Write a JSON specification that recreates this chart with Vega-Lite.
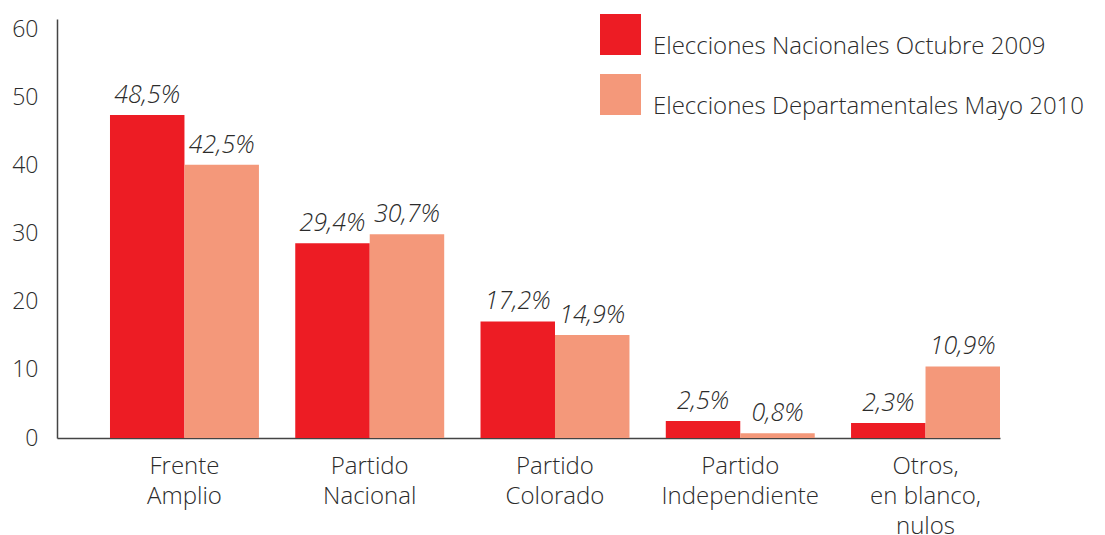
{
  "$schema": "https://vega.github.io/schema/vega-lite/v6.json",
  "width": 943,
  "height": 419,
  "autosize": "none",
  "padding": {"left": 57, "top": 19, "right": 105, "bottom": 97},
  "config": {"view": {"stroke": null}, "font": "Open Sans"},
  "data": {
    "values": [
      {"partido": "Frente\nAmplio", "eleccion": "Elecciones Nacionales Octubre 2009", "valor": 47.4, "etiqueta": "48,5%"},
      {"partido": "Frente\nAmplio", "eleccion": "Elecciones Departamentales Mayo 2010", "valor": 40.1, "etiqueta": "42,5%"},
      {"partido": "Partido\nNacional", "eleccion": "Elecciones Nacionales Octubre 2009", "valor": 28.6, "etiqueta": "29,4%"},
      {"partido": "Partido\nNacional", "eleccion": "Elecciones Departamentales Mayo 2010", "valor": 29.9, "etiqueta": "30,7%"},
      {"partido": "Partido\nColorado", "eleccion": "Elecciones Nacionales Octubre 2009", "valor": 17.1, "etiqueta": "17,2%"},
      {"partido": "Partido\nColorado", "eleccion": "Elecciones Departamentales Mayo 2010", "valor": 15.1, "etiqueta": "14,9%"},
      {"partido": "Partido\nIndependiente", "eleccion": "Elecciones Nacionales Octubre 2009", "valor": 2.5, "etiqueta": "2,5%"},
      {"partido": "Partido\nIndependiente", "eleccion": "Elecciones Departamentales Mayo 2010", "valor": 0.7, "etiqueta": "0,8%"},
      {"partido": "Otros,\nen blanco,\nnulos", "eleccion": "Elecciones Nacionales Octubre 2009", "valor": 2.2, "etiqueta": "2,3%"},
      {"partido": "Otros,\nen blanco,\nnulos", "eleccion": "Elecciones Departamentales Mayo 2010", "valor": 10.5, "etiqueta": "10,9%"}
    ]
  },
  "encoding": {
    "x": {
      "field": "partido",
      "type": "nominal",
      "sort": null,
      "title": null,
      "scale": {"paddingInner": 0.196, "paddingOuter": 0.143, "align": 1},
      "axis": {
        "labelAngle": 0,
        "ticks": false,
        "labelFontSize": 24,
        "labelColor": "#2b2b2b",
        "labelFontWeight": 300,
        "labelLineHeight": 30,
        "labelPadding": 16,
        "labelLimit": 0,
        "labelBaseline": "top",
        "labelExpr": "split(datum.label, '\\n')",
        "domainColor": "#444",
        "domainWidth": 1.5
      }
    },
    "xOffset": {"field": "eleccion", "sort": null},
    "y": {
      "field": "valor",
      "type": "quantitative",
      "title": null,
      "scale": {"domain": [0, 61.5], "nice": false},
      "axis": {
        "values": [0, 10, 20, 30, 40, 50, 60],
        "grid": false,
        "ticks": false,
        "labelFontSize": 23,
        "labelColor": "#2b2b2b",
        "labelFontWeight": 300,
        "labelPadding": 19,
        "domainColor": "#444",
        "domainWidth": 1.5
      }
    }
  },
  "layer": [
    {
      "mark": {"type": "bar"},
      "encoding": {
        "color": {
          "field": "eleccion",
          "type": "nominal",
          "sort": null,
          "scale": {"range": ["#ED1C24", "#F4987A"]},
          "legend": {
            "orient": "none",
            "legendX": 543,
            "legendY": -5,
            "title": null,
            "symbolType": "square",
            "symbolSize": 1681,
            "symbolStrokeWidth": 0,
            "symbolOpacity": 1,
            "labelFontSize": 24,
            "labelFontWeight": 300,
            "labelColor": "#2b2b2b",
            "labelBaseline": "top",
            "labelOffset": 12,
            "labelLimit": 0,
            "rowPadding": 15
          }
        }
      }
    },
    {
      "mark": {"type": "text", "fontSize": 25, "fontStyle": "italic", "fontWeight": 300, "color": "#2b2b2b", "baseline": "alphabetic", "dy": -12},
      "encoding": {
        "text": {"field": "etiqueta"}
      }
    }
  ]
}
